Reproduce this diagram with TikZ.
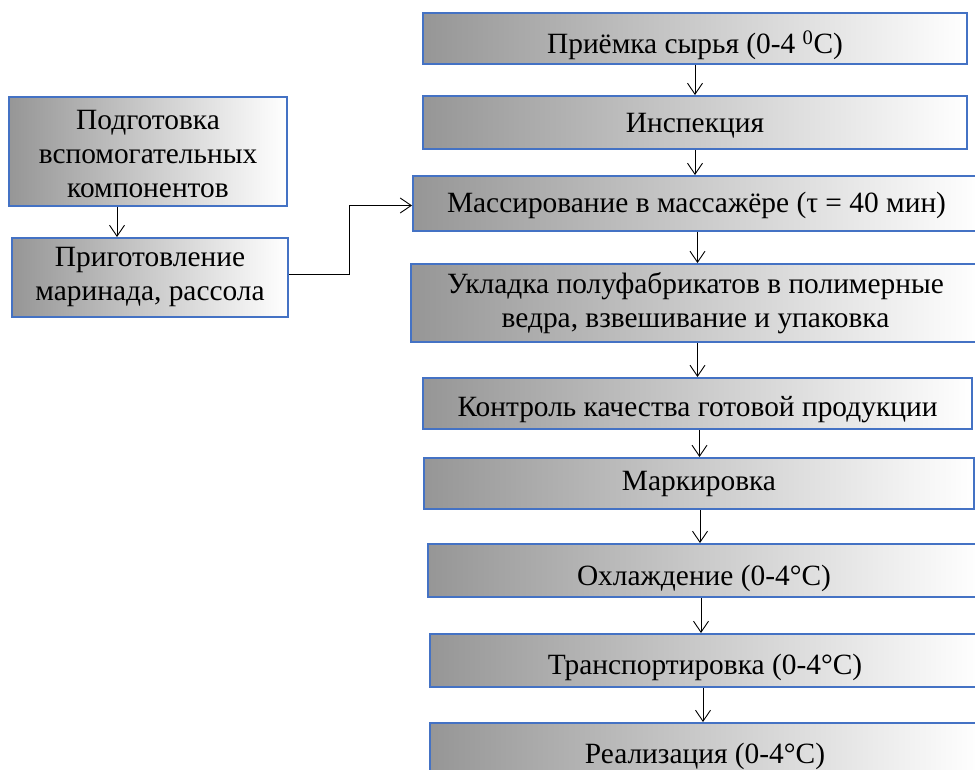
\documentclass[tikz,border=0pt]{standalone}
\usepackage{fontspec}
\setmainfont{Liberation Serif}
\usepackage{tikz}
\usepackage{xcolor}
\usetikzlibrary{arrows.meta,positioning,calc}
\definecolor{frameBlue}{RGB}{68,114,196}
\definecolor{shadeGray}{RGB}{150,150,150}
\newcommand{\shiftdown}[2]{\raisebox{-#1}[\height][\depth]{#2}}

\begin{document}
\begin{tikzpicture}[
            x=1pt, y=-1pt,
            block/.style={rectangle, draw=frameBlue, line width=2pt, left color=shadeGray, right color=white, align=center, inner sep=0pt, font=\fontsize{29.4}{34}\selectfont},
            arrow/.style={-{Straight Barb[length=11pt,width=15pt]}, line width=0.9pt}
        ]
            \useasboundingbox (0,0) rectangle (975,770);
            % main line
            \node[block, minimum width=544pt, minimum height=51pt] (recv) at (695,38.5) {\shiftdown{7pt}{Приёмка сырья (0-4 \textsuperscript{0}C)}};
            \node[block, minimum width=544pt, minimum height=53pt] (insp) at (695,122.5) {\shiftdown{3pt}{Инспекция}};
            \node[block, minimum width=567pt, minimum height=55pt] (mass) at (696.5,203.5) {\shiftdown{2pt}{Массирование в массажёре (τ = 40 мин)}};
            \node[block, minimum width=569pt, minimum height=78pt] (pack) at (695.5,303) {Укладка полуфабрикатов в полимерные\\ведра, взвешивание и упаковка};
            \node[block, minimum width=549pt, minimum height=51pt] (ctrl) at (697.5,403.5) {\shiftdown{6pt}{Контроль качества готовой продукции}};
            \node[block, minimum width=550pt, minimum height=51pt] (mark) at (699,483.5) {\shiftdown{1pt}{Маркировка}};
            \node[block, minimum width=552pt, minimum height=53pt] (cool) at (704,570.5) {\shiftdown{8pt}{Охлаждение (0-4°C)}};
            \node[block, minimum width=550pt, minimum height=53pt] (trans) at (705,660.5) {\shiftdown{7pt}{Транспортировка (0-4°C)}};
            \node[block, minimum width=550pt, minimum height=67pt] (sale) at (705,756.5) {Реализация (0-4°C)};
            % side line
            \node[block, minimum width=278pt, minimum height=109pt] (prep) at (148,151.5) {\shiftdown{3pt}{\parbox{270pt}{\centering Подготовка\\вспомогательных\\компонентов}}};
            \node[block, minimum width=276pt, minimum height=79pt] (brine) at (150,277.5) {Приготовление\\маринада, рассола};

            \draw[arrow] (recv.south) -- (recv.south |- insp.north);
            \draw[arrow] (insp.south) -- (insp.south |- mass.north);
            \draw[arrow] ([xshift=1pt]mass.south) -- ([xshift=1pt]mass.south |- pack.north);
            \draw[arrow] ([xshift=2pt]pack.south) -- ([xshift=2pt]pack.south |- ctrl.north);
            \draw[arrow] ([xshift=2pt]ctrl.south) -- ([xshift=2pt]ctrl.south |- mark.north);
            \draw[arrow] ([xshift=1pt]mark.south) -- ([xshift=1pt]mark.south |- cool.north);
            \draw[arrow] ([xshift=-3pt]cool.south) -- ([xshift=-3pt]cool.south |- trans.north);
            \draw[arrow] ([xshift=-2pt]trans.south) -- ([xshift=-2pt]trans.south |- sale.north);
            \draw[arrow] ([xshift=-31pt]prep.south) -- ([xshift=-31pt]prep.south |- brine.north);
            \draw[arrow] ([yshift=3pt]brine.east) -- ++(60,0) |- ([yshift=-2pt]mass.west);
        \end{tikzpicture}
\end{document}
